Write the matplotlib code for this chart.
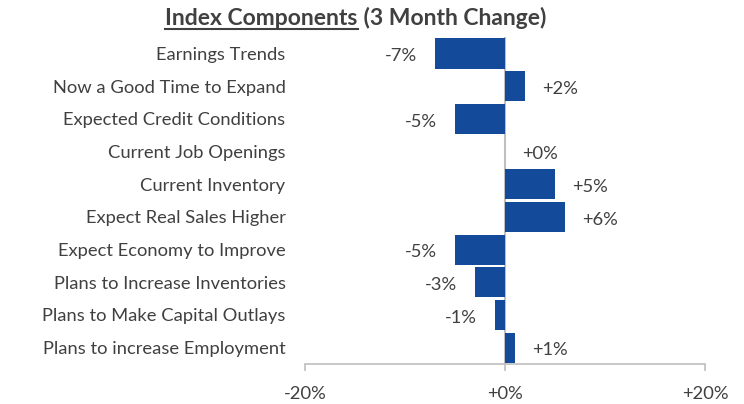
import matplotlib
matplotlib.use("Agg")
import matplotlib.pyplot as plt

categories = [
    "Earnings Trends",
    "Now a Good Time to Expand",
    "Expected Credit Conditions",
    "Current Job Openings",
    "Current Inventory",
    "Expect Real Sales Higher",
    "Expect Economy to Improve",
    "Plans to Increase Inventories",
    "Plans to Make Capital Outlays",
    "Plans to increase Employment",
]
changes = [-7, 2, -5, 0, 5, 6, -5, -3, -1, 1]
xticks = [-20, 0, 20]

plt.rcParams["font.family"] = ["Lato", "DejaVu Sans"]
text_color = "#404040"
bar_color = "#134A9A"
fs = 13.2

fig = plt.figure(figsize=(7.44, 4.04), dpi=100)
ax = fig.add_axes([0.41, 0.099, 0.538, 0.809])

ypos = list(range(len(categories)))
ax.axvline(0, color="#BFBFBF", lw=1.5, zorder=1)
ax.barh(ypos, changes, height=0.92, color=bar_color, zorder=2)

for y, v in zip(ypos, changes):
    lbl = f"{v:+d}%"
    if v < 0:
        ax.annotate(lbl, (v, y), xytext=(-13, -2), textcoords="offset points",
                    ha="right", va="center", fontsize=fs, color=text_color)
    else:
        ax.annotate(lbl, (v, y), xytext=(12, -2), textcoords="offset points",
                    ha="left", va="center", fontsize=fs, color=text_color)

ax.set_xlim(-20, 20)
ax.set_ylim(len(categories) - 0.5, -0.5)
ax.set_yticks(ypos)
ax.set_yticklabels(categories, fontsize=fs, color=text_color)
ax.tick_params(axis="y", length=0, pad=14)
ax.set_xticks(xticks)
ax.set_xticklabels([f"{t:+d}%" if t != 0 else "+0%" for t in xticks], fontsize=fs, color=text_color)
ax.tick_params(axis="x", length=5, width=1.2, color="#BFBFBF", pad=11)

for s in ["top", "right", "left"]:
    ax.spines[s].set_visible(False)
ax.spines["bottom"].set_color("#BFBFBF")
ax.spines["bottom"].set_linewidth(1.2)

# title: first part underlined
t1 = fig.text(0.222, 0.955, "Index Components", fontsize=16.5, fontweight="bold",
              color=text_color, ha="left", va="center")
fig.canvas.draw()
r = fig.canvas.get_renderer()
bb = t1.get_window_extent(r).transformed(fig.transFigure.inverted())
fig.text(bb.x1, 0.955, " (3 Month Change)", fontsize=16.5, fontweight="bold",
         color=text_color, ha="left", va="center")
fig.add_artist(plt.Line2D([bb.x0, bb.x1], [bb.y0 - 0.002, bb.y0 - 0.002],
                          transform=fig.transFigure, color=text_color, lw=1.5))

fig.savefig("out.png", dpi=100)
